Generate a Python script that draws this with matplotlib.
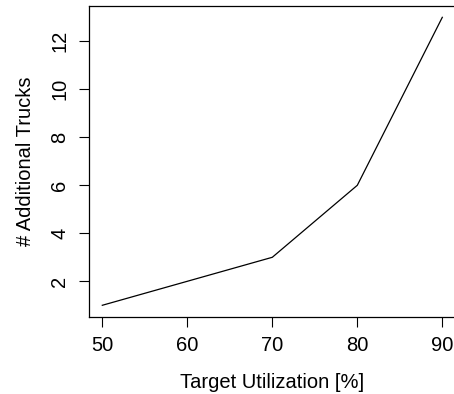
import matplotlib
matplotlib.use("Agg")
import matplotlib.pyplot as plt

# target utilization vs extra trucks needed
utilization = [50, 60, 70, 80, 90]
trucks = [1, 2, 3, 6, 13]
x_ticks = [50, 60, 70, 80, 90]
y_ticks = [2, 4, 6, 8, 10, 12]

plt.rcParams['font.family'] = ['Liberation Sans', 'DejaVu Sans']

W, H = 454, 394
fig = plt.figure(figsize=(W / 100, H / 100), dpi=100)
ax = fig.add_axes([88.7 / W, (H - 316.8) / H, (455.9 - 88.7) / W, (316.8 - 5.8) / H])

ax.plot(utilization, trucks, color='black', linewidth=0.9)
ax.set_xlim(48.4, 91.6)
ax.set_ylim(0.52, 13.48)

ax.set_xticks(x_ticks)
ax.set_yticks(y_ticks)
ax.tick_params(axis='both', direction='out', length=7, width=0.8, labelsize=14.5, pad=7)
for lbl in ax.get_yticklabels():
    lbl.set_rotation(90)
    lbl.set_va('center')

for s in ax.spines.values():
    s.set_linewidth(0.9)

ax.set_xlabel('Target Utilization [%]', fontsize=14.5, labelpad=13)
ax.set_ylabel('# Additional Trucks', fontsize=14.5, labelpad=11)

fig.savefig('out.png', dpi=100)
